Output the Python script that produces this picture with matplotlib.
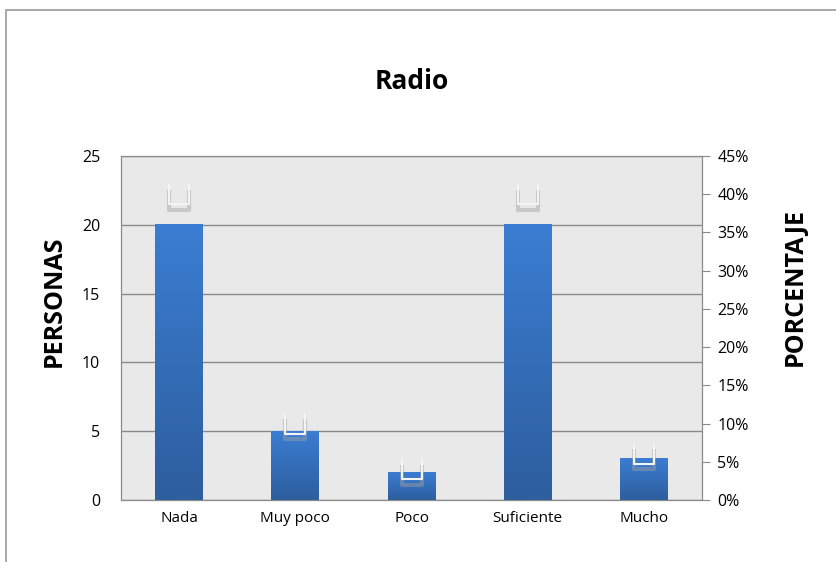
import numpy as np
import matplotlib.pyplot as plt
from matplotlib.patches import Rectangle
from matplotlib.path import Path
from matplotlib.colors import LinearSegmentedColormap

# datos
categorias = ['Nada', 'Muy poco', 'Poco', 'Suficiente', 'Mucho']
personas = [20, 5, 2, 20, 3]
porcentaje = [40, 10, 4, 40, 6]

plt.rcParams['font.family'] = ['Open Sans', 'DejaVu Sans']

fig = plt.figure(figsize=(8.37, 5.62), dpi=100)
fig.patches.append(Rectangle((6/837, -0.1), 1.1, (562-10)/562 + 0.1, transform=fig.transFigure,
                             fill=False, edgecolor='#9a9a9a', lw=1.2))

ax = fig.add_axes([121/837, 62/562, 581/837, 344/562])
ax.set_facecolor('#e9e9e9')
x = np.arange(len(categorias))
ancho = 0.41

# gradiente de las barras
grad = np.linspace(0, 1, 100).reshape(-1, 1)
cmap = LinearSegmentedColormap.from_list('azul', ['#2d5e9e', '#3b7dd2'])
for xi, v in zip(x, personas):
    ax.imshow(grad, cmap=cmap, aspect='auto', origin='lower',
              extent=(xi - ancho/2, xi + ancho/2, 0, v), zorder=3)

ax.set_xlim(-0.5, 4.5)
ax.set_ylim(0, 25)
ax.set_yticks([0, 5, 10, 15, 20, 25])
ax.set_xticks(x)
ax.set_xticklabels(categorias)
ax.grid(axis='y', color='#8a8a8a', lw=1, zorder=1)
ax.set_axisbelow(True)
ax.tick_params(axis='y', length=0, pad=15, labelsize=11.5)
ax.tick_params(axis='x', length=0, pad=8, labelsize=11)
for s in ax.spines.values():
    s.set_color('#8a8a8a')
ax.set_ylabel('PERSONAS', fontsize=18, fontweight='bold', va='center')
ax.yaxis.set_label_coords(-0.115, 0.578)
ax.set_title('Radio', fontsize=19, fontweight='bold', pad=48)

ax2 = ax.twinx()
ax2.set_ylim(0, 45)
ax2.set_yticks(range(0, 50, 5))
ax2.set_yticklabels([f'{v}%' for v in range(0, 50, 5)])
ax2.tick_params(axis='y', length=6, color='#8a8a8a', labelsize=11.5, pad=5)
for s in ax2.spines.values():
    s.set_color('#8a8a8a')
ax2.set_ylabel('PORCENTAJE', fontsize=18, fontweight='bold', va='center')
ax2.yaxis.set_label_coords(1.160, 0.619)

# marcador en forma de U
u = Path([(-1, 1), (-1, -1), (1, -1), (1, 1)], [Path.MOVETO, Path.LINETO, Path.LINETO, Path.LINETO])
ax2.plot(x, np.array(porcentaje) - 0.7, ls='none', marker=u, markersize=15, mew=3,
         color='#a0a0a0', mfc='none', alpha=0.45, zorder=4)
ax2.plot(x, porcentaje, ls='none', marker=u, markersize=15, mew=1.5,
         color='#f4f4f4', mfc='none', zorder=5)

fig.savefig('out.png', dpi=100)
